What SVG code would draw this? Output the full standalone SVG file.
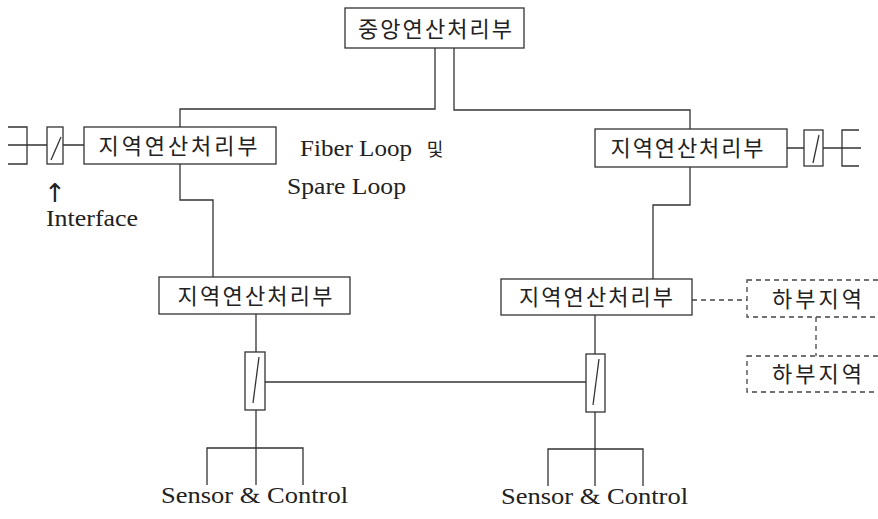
<svg xmlns="http://www.w3.org/2000/svg" width="878" height="519" viewBox="0 0 878 519">
<style>
.box{fill:#fff;stroke:#333;stroke-width:1.3}
.dbox{fill:none;stroke:#444;stroke-width:1.3;stroke-dasharray:5 4}
.ln{fill:none;stroke:#333;stroke-width:1.3}
.dl{fill:none;stroke:#444;stroke-width:1.3;stroke-dasharray:5 4}
.kr{font-family:"Noto Sans CJK KR","Noto Sans",sans-serif;font-size:22px;fill:#222;text-anchor:middle}
.en{font-family:"Liberation Serif","DejaVu Serif",serif;font-size:23px;fill:#222}
</style>
<rect width="878" height="519" fill="#fff"/>
<g id="connectors">
<path class="ln" d="M435,48 V109 H180 V127"/>
<path class="ln" d="M454,48 V110 H690 V129"/>
<path class="ln" d="M180,164 V200 H213 V277"/>
<path class="ln" d="M690,167 V205 H653 V279"/>
<path class="ln" d="M256,314 V352"/>
<path class="ln" d="M256,410 V448 M207,485 V448 H303 V485 M256,448 V485"/>
<path class="ln" d="M265,382 H586"/>
<path class="ln" d="M595,315 V354"/>
<path class="ln" d="M595,412 V449 M548,486 V449 H643 V486 M595,449 V486"/>
<path class="ln" d="M8,145 H47 M63,145 H84"/>
<path class="ln" d="M8,127 H27 V164 H8"/>
<path class="ln" d="M787,148 H804 M823,148 H861"/>
<path class="ln" d="M859,130 H842 V166 H859"/>
<path class="dl" d="M692,300 H747"/>
<path class="dl" d="M816,317 V356"/>
</g>
<g id="central">
<rect class="box" x="345" y="8" width="179" height="40"/>
<text class="kr" x="435" y="37" textLength="154" lengthAdjust="spacing">중앙연산처리부</text>
</g>
<g id="region-upper-left">
<rect class="box" x="84" y="127" width="192" height="37"/>
<text class="kr" x="178" y="154" textLength="159" lengthAdjust="spacing">지역연산처리부</text>
</g>
<g id="region-upper-right">
<rect class="box" x="595" y="129" width="192" height="38"/>
<text class="kr" x="687" y="156" textLength="153" lengthAdjust="spacing">지역연산처리부</text>
</g>
<g id="region-lower-left">
<rect class="box" x="159" y="277" width="191" height="37"/>
<text class="kr" x="255" y="304" textLength="155" lengthAdjust="spacing">지역연산처리부</text>
</g>
<g id="region-lower-right">
<rect class="box" x="501" y="279" width="191" height="36"/>
<text class="kr" x="596" y="305" textLength="154" lengthAdjust="spacing">지역연산처리부</text>
</g>
<g id="interface-left">
<rect class="box" x="47" y="127" width="16" height="37"/>
<path class="ln" d="M51,160 L61,137"/>
</g>
<g id="interface-right">
<rect class="box" x="804" y="130" width="19" height="36"/>
<path class="ln" d="M813,163 L819,135"/>
</g>
<g id="interface-lower-left">
<rect class="box" x="245" y="352" width="20" height="58"/>
<path class="ln" d="M253,403 L259,357"/>
</g>
<g id="interface-lower-right">
<rect class="box" x="586" y="354" width="19" height="58"/>
<path class="ln" d="M593,405 L599,359"/>
</g>
<g id="sub-region-1">
<rect class="dbox" x="747" y="280" width="140" height="37"/>
<text class="kr" x="817" y="307" textLength="90" lengthAdjust="spacing">하부지역</text>
</g>
<g id="sub-region-2">
<rect class="dbox" x="747" y="356" width="140" height="36"/>
<text class="kr" x="817" y="382" textLength="90" lengthAdjust="spacing">하부지역</text>
</g>
<g id="labels">
<text class="en" x="300" y="156" textLength="112" lengthAdjust="spacingAndGlyphs">Fiber Loop</text>
<text class="kr" x="435" y="156" style="font-size:18px">및</text>
<text class="en" x="287" y="194" textLength="119" lengthAdjust="spacingAndGlyphs">Spare Loop</text>
<text x="44" y="202" style="font-family:'DejaVu Sans',sans-serif;font-size:26px;fill:#222">↑</text>
<text class="en" x="46" y="226" textLength="92" lengthAdjust="spacingAndGlyphs">Interface</text>
<text class="en" x="161" y="503" textLength="187" lengthAdjust="spacingAndGlyphs">Sensor &amp; Control</text>
<text class="en" x="501" y="504" textLength="187" lengthAdjust="spacingAndGlyphs">Sensor &amp; Control</text>
</g>
</svg>
